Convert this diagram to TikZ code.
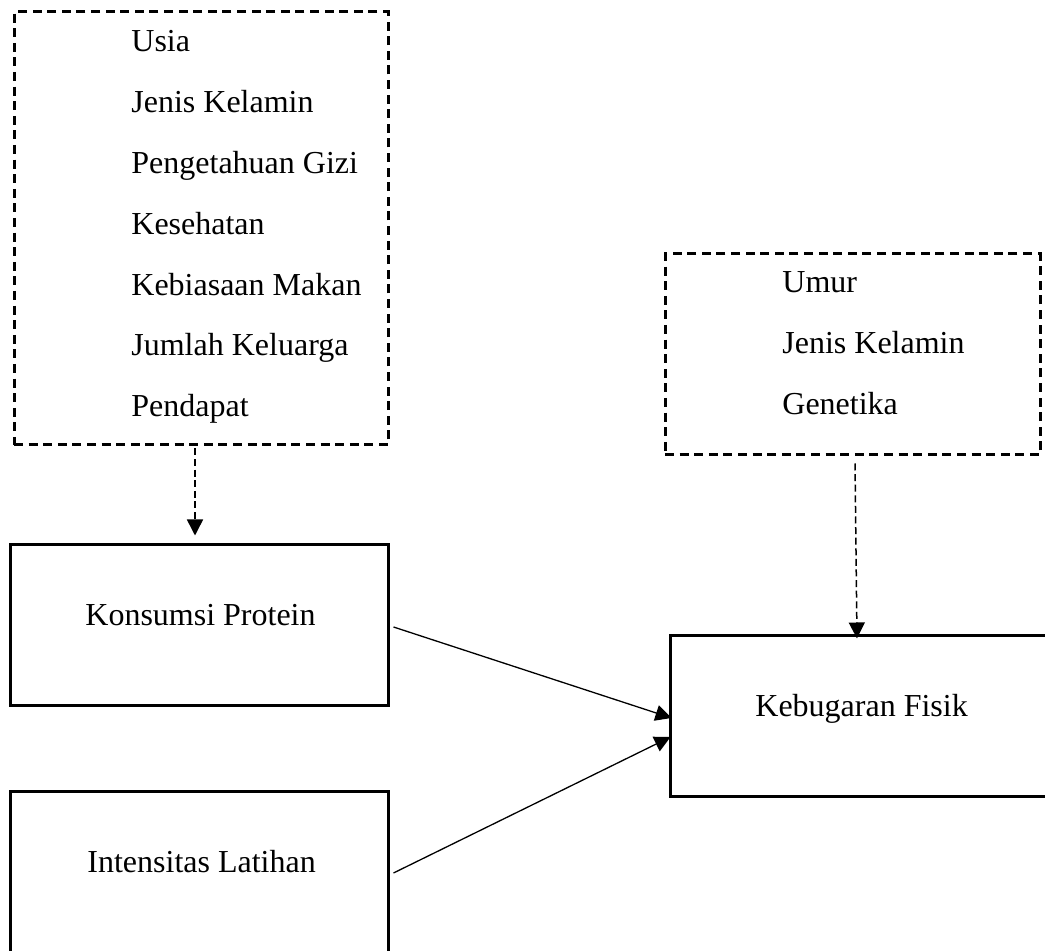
\documentclass[tikz,border=0pt]{standalone}
\usepackage{fontspec}
\setmainfont{Liberation Serif}
\usetikzlibrary{arrows.meta,calc}
\begin{document}
\begin{tikzpicture}[x=0.5pt,y=-0.5pt,
  font=\fontsize{16}{19}\selectfont,
  solidbox/.style={draw, line width=1.5pt, rectangle, inner sep=0pt},
  dashbox/.style={draw, line width=1.5pt, rectangle, inner sep=0pt, dash pattern=on 4.5pt off 2.8pt},
  lbl/.style={anchor=base west, inner sep=0pt},
  arr/.style={line width=0.65pt, -{Triangle[length=8pt,width=8pt]}},
  darr/.style={arr, line width=0.75pt, dash pattern=on 3.5pt off 1.8pt}]
\useasboundingbox (0,0) rectangle (1045,951);
\clip (0,0) rectangle (1045,951);
% boxes
\node[dashbox, minimum width=187pt, minimum height=216.5pt] (td) at (201,228.5) {};
\node[dashbox, minimum width=187.5pt, minimum height=100.5pt] (rd) at (852.5,354.5) {};
\node[solidbox, minimum width=189pt, minimum height=80.5pt] (kp) at (199,625.5) {};
\node[solidbox, minimum width=189pt, minimum height=85pt] (il) at (199,877) {};
\node[solidbox, minimum width=210pt, minimum height=80.5pt] (kf) at (880,716.5) {};
% texts in top box
\node[lbl] (t1) at (131,52) {Usia};
\node[lbl] (t2) at (131,112.8) {Jenis Kelamin};
\node[lbl] (t3) at (131,173.6) {Pengetahuan Gizi};
\node[lbl] (t4) at (131,234.4) {Kesehatan};
\node[lbl] (t5) at (131,295.2) {Kebiasaan Makan};
\node[lbl] (t6) at (131,356) {Jumlah Keluarga};
\node[lbl] (t7) at (131,417) {Pendapat};
% texts in right box
\node[lbl] (r1) at (782,293) {Umur};
\node[lbl] (r2) at (782,354) {Jenis Kelamin};
\node[lbl] (r3) at (782,415) {Genetika};
% box labels
\node[lbl] (kpl) at (85,626) {Konsumsi Protein};
\node[lbl] (ill) at (87,872) {Intensitas Latihan};
\node[lbl] (kfl) at (755,717) {Kebugaran Fisik};
% connectors
\draw[darr] ($(td.south)+(-6,2)$) -- ($(kp.north)+(-4,-8)$);
\draw[darr] ($(rd.south)+(2.5,7)$) -- ($(kf.north)+(-23,4)$);
\draw[arr] ($(kp.east)+(4,1.5)$) -- ($(kf.west)+(3,1.5)$);
\draw[arr] ($(il.east)+(4,-4)$) -- ($(kf.west)+(2,20.5)$);
\end{tikzpicture}
\end{document}
